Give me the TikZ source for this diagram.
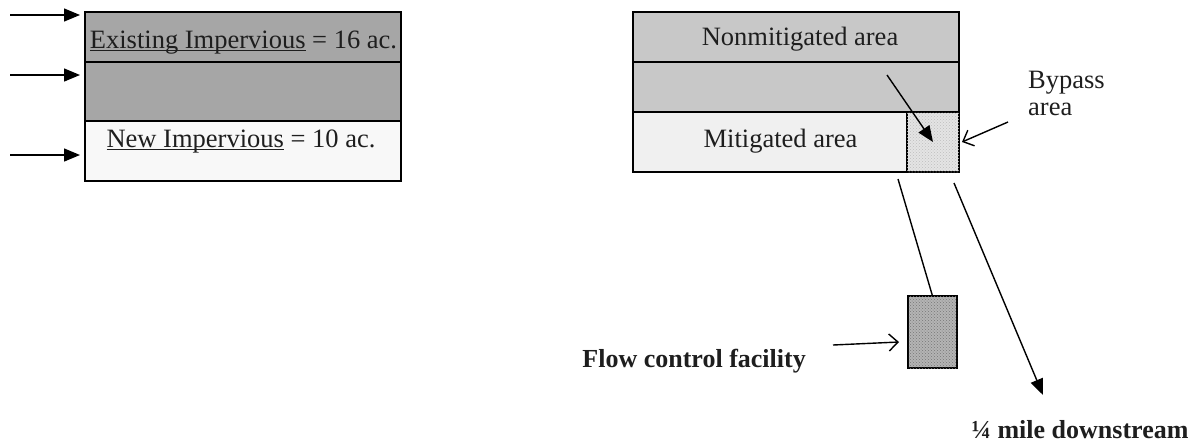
\documentclass[tikz,border=0pt]{standalone}
\usepackage{fontspec}
\setmainfont{Liberation Serif}
\usetikzlibrary{arrows.meta,patterns}
\definecolor{dkgray}{HTML}{A6A6A6}
\definecolor{ltgray}{HTML}{C8C8C8}
\definecolor{paler}{HTML}{F8F8F8}
\definecolor{pale}{HTML}{F0F0F0}
\definecolor{bypassfill}{HTML}{E4E4E4}
\definecolor{bypassdot}{HTML}{BEBEBE}
\definecolor{fcffill}{HTML}{B4B4B4}
\definecolor{fcfdot}{HTML}{767676}
\definecolor{ink}{HTML}{1E1E1E}
\newcommand{\ulx}[1]{\setbox0\hbox{#1}\rlap{\rule[-2.6pt]{\wd0}{1.1pt}}\box0\relax}
\begin{document}
\begin{tikzpicture}[x=1pt,y=-1pt,
  area/.style={draw=black, line width=1.4pt, inner sep=0pt, outer sep=0pt},
  lbl/.style={inner sep=0pt, anchor=base, text=ink, font=\fontsize{26.5}{27}\selectfont},
  blbl/.style={inner sep=0pt, anchor=base, text=ink, font=\fontsize{26}{27}\selectfont\bfseries},
  solidarrow/.style={line width=1.4pt, -{Triangle[length=16pt,width=13pt]}},
  openarrow/.style={line width=1.4pt, -{Straight Barb[length=9pt,width=17pt]}},
  plain/.style={line width=1.4pt}
]
\useasboundingbox (0,0) rectangle (1199,445);

% left diagram
\node[area, fill=dkgray, minimum width=316pt, minimum height=50pt] (exist) at (243,37) {};
\node[area, fill=dkgray, minimum width=316pt, minimum height=59pt] (mid1) at (243,91.5) {};
\node[area, fill=paler, minimum width=316pt, minimum height=60pt] (newimp) at (243,151) {};
\node[lbl] (existtxt) at (243.5,48) {\ulx{Existing Impervious} = 16 ac.};
\node[lbl] (newtxt) at (241,147) {\ulx{New Impervious} = 10 ac.};

\coordinate (a1) at (10,15);
\coordinate (a2) at (10,75);
\coordinate (a3) at (10,155);
\draw[solidarrow] (a1) -- ([xshift=-5pt]a1 -| exist.west);
\draw[solidarrow] (a2) -- ([xshift=-5pt]a2 -| mid1.west);
\draw[solidarrow] (a3) -- ([xshift=-5pt]a3 -| newimp.west);

% right diagram
\node[area, fill=ltgray, minimum width=326pt, minimum height=50pt] (nonmit) at (796,37) {};
\node[area, fill=ltgray, minimum width=326pt, minimum height=50pt] (mid2) at (796,87) {};
\node[area, fill=pale, minimum width=274pt, minimum height=60pt] (mitig) at (770,142) {};
\node[area, fill=bypassfill, postaction={pattern=crosshatch dots, pattern color=bypassdot},
      minimum width=52pt, minimum height=60pt] (bypass) at (933,142) {};
\node[lbl] (nonmittxt) at (800,45) {Nonmitigated area};
\node[lbl] (mitigtxt) at (780.5,147) {Mitigated area};
\node[lbl, anchor=base west, align=left] (bypasstxt) at (1028,115) {Bypass\\area};

\node[area, fill=fcffill, postaction={pattern=crosshatch dots, pattern color=fcfdot},
      minimum width=49pt, minimum height=72pt] (fcf) at (932.5,332) {};
\node[blbl, anchor=base east] (fcftxt) at (806,367) {Flow control facility};
\node[blbl] (downtxt) at (1080,438) {¼ mile downstream};

\coordinate (in1) at (887,75);
\draw[solidarrow] (in1) -- (bypass.center);

\coordinate (bp1) at (1008,122);
\draw[openarrow] (bp1) -- ([xshift=3pt]bypass.east);

\coordinate (l1) at (898,179);
\draw[plain] (l1) -- (fcf.north);

\coordinate (d1) at (954,183);
\coordinate (d2) at (1043,395);
\draw[solidarrow] (d1) -- (d2);

\coordinate (f1) at (833,345);
\draw[openarrow] (f1) -- ([xshift=-9pt,yshift=-10pt]fcf.west);
\end{tikzpicture}
\end{document}
